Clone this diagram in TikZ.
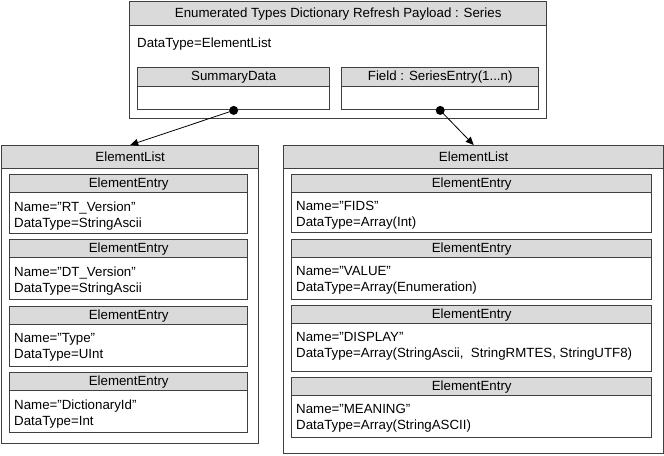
\documentclass[tikz,border=0pt]{standalone}
\usepackage{fontspec}
\setmainfont{Liberation Sans}
\usetikzlibrary{arrows.meta}
\definecolor{linec}{HTML}{404040}
\definecolor{hdrc}{HTML}{DADADA}
\newcommand\eentry[6]{%
  \node[frame, minimum width=#4bp, minimum height=#5bp] (#1) at (#2,#3) {};
  \node[hdr, minimum width=#4bp, minimum height=18bp] (#1h) at (#2,#3) {ElementEntry};
  \node[txt] (#1t) at ([xshift=5bp,yshift=-8bp]#1h.south west) {#6};}
\begin{document}
\begin{tikzpicture}[x=1bp,y=-1bp,
  every node/.style={font=\fontsize{13.3bp}{16bp}\selectfont},
  frame/.style={draw=linec, line width=1.4bp, anchor=north west, inner sep=0, rectangle},
  hdr/.style={frame, fill=hdrc},
  txt/.style={anchor=north west, inner sep=0, align=left},
  conn/.style={draw=black, line width=0.8bp, -{Triangle[length=8bp,width=7bp]}},
  dot/.style={circle, fill=black, inner sep=0, minimum size=9bp}]
\useasboundingbox (0,0) rectangle (664,456);
\fill[white] (0,0) rectangle (664,456);
% top box
\node[frame, minimum width=417bp, minimum height=117bp] (top) at (129,1) {};
\node[hdr, minimum width=417bp, minimum height=24bp] (toph) at (129,1) {Enumerated Types Dictionary Refresh Payload : Series};
\node[anchor=base west, inner sep=0] (topt) at (137,47.5) {DataType=ElementList};
\node[frame, minimum width=192bp, minimum height=42bp] (sd) at (137,67) {};
\node[hdr, minimum width=192bp, minimum height=19bp] (sdh) at (137,67) {SummaryData};
\node[frame, minimum width=197bp, minimum height=42bp] (fd) at (341,67) {};
\node[hdr, minimum width=197bp, minimum height=19bp] (fdh) at (341,67) {Field : SeriesEntry(1...n)};
% left list
\node[frame, minimum width=257bp, minimum height=298bp] (ll) at (1,145) {};
\node[hdr, minimum width=257bp, minimum height=23bp] (llh) at (1,145) {ElementList};
\eentry{la}{9}{174}{238}{59}{Name="RT\_Version"\\DataType=StringAscii}
\eentry{lb}{9}{239}{238}{60}{Name="DT\_Version"\\DataType=StringAscii}
\eentry{lc}{9}{306}{238}{60}{Name="Type"\\DataType=UInt}
\eentry{ld}{9}{372}{238}{60}{Name="DictionaryId"\\DataType=Int}
% right list
\node[frame, minimum width=380bp, minimum height=308bp] (rl) at (283,145) {};
\node[hdr, minimum width=380bp, minimum height=23bp] (rlh) at (283,145) {ElementList};
\eentry{ra}{291}{174}{360}{58}{Name="FIDS"\\DataType=Array(Int)}
\eentry{rb}{291}{239}{360}{60}{Name="VALUE"\\DataType=Array(Enumeration)}
\eentry{rc}{291}{305}{360}{66}{Name="DISPLAY"\\DataType=Array(StringAscii,\ \ StringRMTES, StringUTF8)}
\eentry{rd}{291}{377}{360}{60}{Name="MEANING"\\DataType=Array(StringASCII)}
% connectors
\node[dot] (d1) at (sd.south) {};
\node[dot] (d2) at (fd.south) {};
\draw[conn] (d1.center) -- (llh.north);
\draw[conn] (d2.center) -- (rlh.north);
\end{tikzpicture}
\end{document}
